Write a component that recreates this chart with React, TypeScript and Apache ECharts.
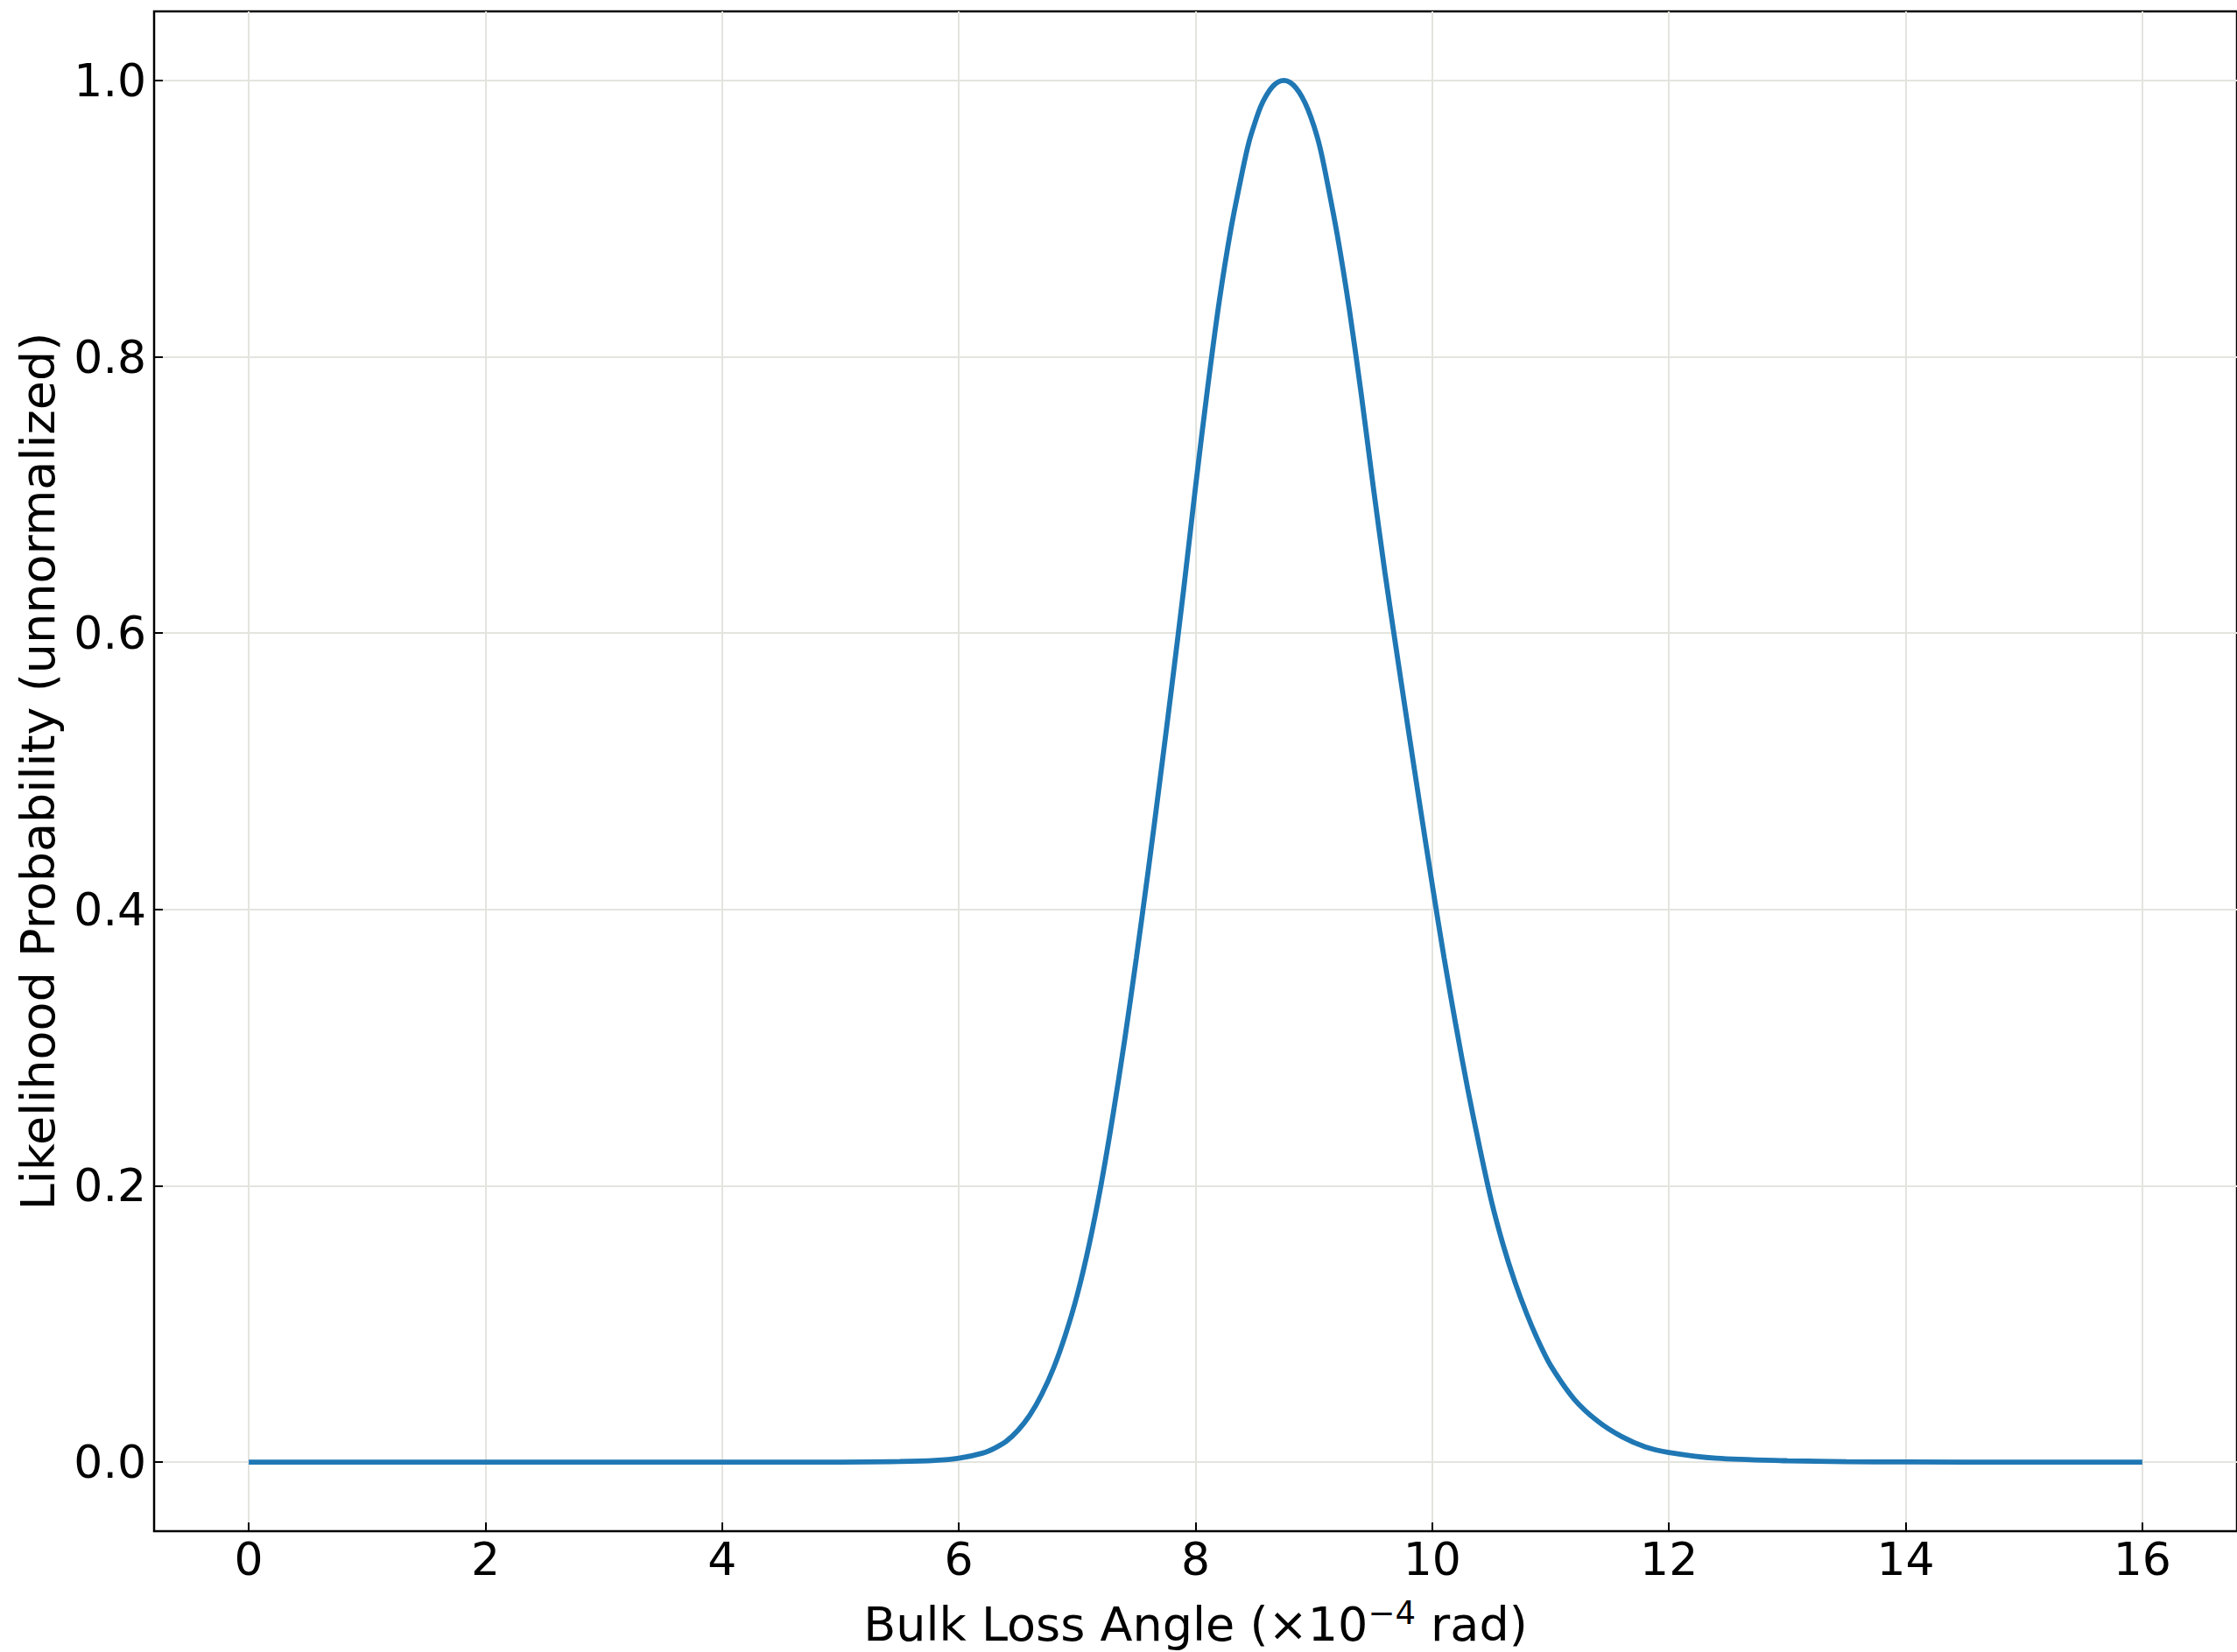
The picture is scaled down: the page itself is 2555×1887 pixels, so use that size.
import React, { useEffect, useRef } from "react";
import * as echarts from "echarts";

// Bulk loss angle (×10^-4 rad)
const angleValues: number[] = [
  0, 1, 2, 3, 4, 5, 5.5, 5.8, 6.0, 6.2, 6.3, 6.4, 6.5, 6.6, 6.7, 6.8, 6.9, 7.0,
  7.1, 7.2, 7.3, 7.4, 7.5, 7.6, 7.7, 7.8, 7.9, 8.0, 8.1, 8.2, 8.3, 8.4, 8.45,
  8.5, 8.55, 8.6, 8.65, 8.7, 8.75, 8.8, 8.85, 8.9, 8.95, 9.0, 9.05, 9.1, 9.2,
  9.3, 9.4, 9.5, 9.6, 9.7, 9.8, 9.9, 10.0, 10.1, 10.2, 10.3, 10.4, 10.5, 10.6,
  10.7, 10.8, 10.9, 11.0, 11.2, 11.4, 11.6, 11.8, 12.0, 12.4, 13.0, 13.5, 14.0,
  15.0, 16.0,
];

// Likelihood probability (unnormalized)
const likelihoodValues: number[] = [
  0, 0, 0, 0, 0, 0, 0.0004, 0.0012, 0.0028, 0.0065, 0.01, 0.015, 0.023, 0.034,
  0.049, 0.068, 0.092, 0.121, 0.157, 0.2, 0.25, 0.305, 0.365, 0.428, 0.494,
  0.562, 0.632, 0.706, 0.776, 0.84, 0.893, 0.936, 0.955, 0.969, 0.981, 0.9895,
  0.9955, 0.999, 1.0, 0.9985, 0.9945, 0.988, 0.979, 0.967, 0.952, 0.932, 0.887,
  0.834, 0.773, 0.707, 0.644, 0.586, 0.529, 0.473, 0.418, 0.365, 0.316, 0.27,
  0.228, 0.189, 0.157, 0.13, 0.107, 0.087, 0.07, 0.0455, 0.0295, 0.0185, 0.011,
  0.007, 0.0028, 0.001, 0.0003, 0.0001, 0, 0,
];

const xTicks: number[] = [0, 2, 4, 6, 8, 10, 12, 14, 16];
const yTicks: number[] = [0, 0.2, 0.4, 0.6, 0.8, 1.0];

const xAxisRange = { min: -0.8, max: 16.8 };
const yAxisRange = { min: -0.05, max: 1.05 };

const FONT = "DejaVu Sans";

export default function App() {
  const ref = useRef<HTMLDivElement>(null);

  useEffect(() => {
    document.body.style.margin = "0";
    if (!ref.current) return;
    const chart = echarts.init(ref.current, null, { renderer: "svg" });
    const data = angleValues.map((x, i) => [x, likelihoodValues[i]]);
    const gridColor = "#e4e4df";
    chart.setOption({
      animation: false,
      backgroundColor: "#ffffff",
      textStyle: { fontFamily: FONT },
      grid: {
        left: 176,
        right: -1,
        top: 13,
        bottom: 134,
        show: true,
        borderColor: "#000000",
        borderWidth: 2.5,
        backgroundColor: "transparent",
        containLabel: false,
      },
      xAxis: {
        type: "value",
        min: xAxisRange.min,
        max: xAxisRange.max,
        name: "{a|Bulk Loss Angle (×10}{s|−4}{a| rad)}",
        nameLocation: "middle",
        nameGap: 75,
        nameTextStyle: {
          rich: {
            a: { fontFamily: FONT, fontSize: 54, color: "#000", lineHeight: 58, verticalAlign: "bottom" },
            s: { fontFamily: FONT, fontSize: 37, color: "#000", lineHeight: 58, verticalAlign: "top" },
          },
        },
        axisLine: { show: false, onZero: false },
        axisTick: {
          show: true,
          inside: true,
          length: 10,
          customValues: xTicks,
          lineStyle: { color: "#000", width: 2 },
        },
        axisLabel: {
          customValues: xTicks,
          margin: 6,
          fontFamily: FONT,
          fontSize: 52,
          color: "#000",
          formatter: (v: number) => String(v),
        },
        splitLine: { show: true, lineStyle: { color: gridColor, width: 2 } },
      },
      yAxis: {
        type: "value",
        min: yAxisRange.min,
        max: yAxisRange.max,
        name: "Likelihood Probability (unnormalized)",
        nameLocation: "middle",
        nameGap: 106,
        nameRotate: 90,
        nameTextStyle: { fontFamily: FONT, fontSize: 54, color: "#000" },
        axisLine: { show: false, onZero: false },
        axisTick: {
          show: true,
          inside: true,
          length: 10,
          customValues: yTicks,
          lineStyle: { color: "#000", width: 2 },
        },
        axisLabel: {
          customValues: yTicks,
          margin: 9,
          fontFamily: FONT,
          fontSize: 52,
          color: "#000",
          formatter: (v: number) => v.toFixed(1),
        },
        splitLine: { show: true, lineStyle: { color: gridColor, width: 2 } },
      },
      series: [
        {
          type: "line",
          data,
          showSymbol: false,
          smooth: 0.3,
          lineStyle: { color: "#1f77b4", width: 5.8 },
          itemStyle: { color: "#1f77b4" },
          z: 3,
        },
      ],
    });
    return () => chart.dispose();
  }, []);

  return (
    <div
      ref={ref}
      style={{ position: "fixed", left: 0, top: 0, width: 2555, height: 1887 }}
    />
  );
}
